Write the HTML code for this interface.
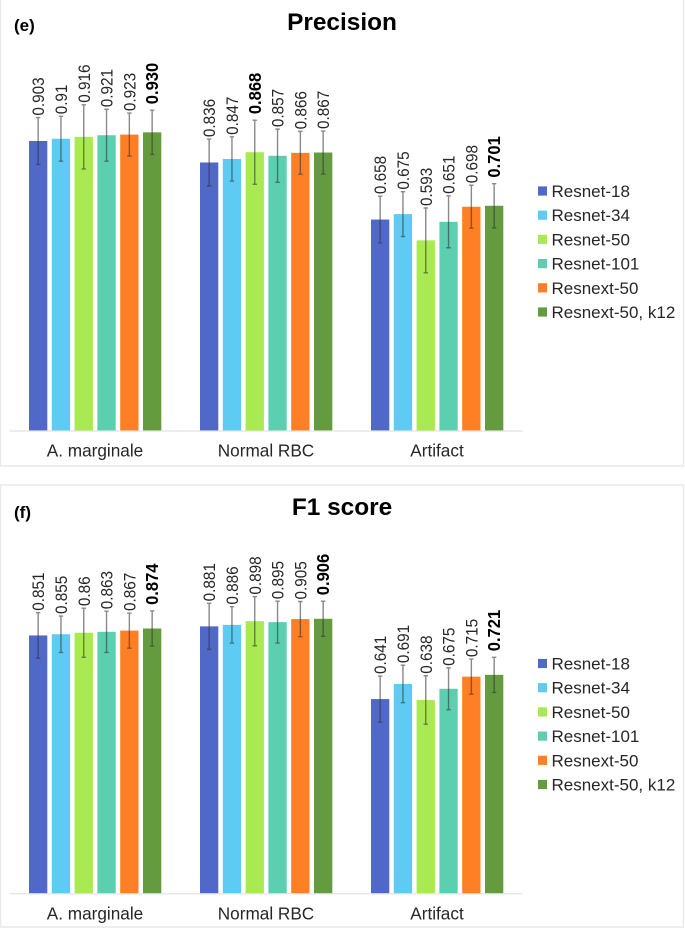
<!DOCTYPE html>
<html lang="en">
<head>
<meta charset="utf-8">
<title>Precision and F1 score</title>
<style>
html,body{margin:0;padding:0;background:#fff;width:685px;height:929px;overflow:hidden}
svg{display:block;filter:blur(0.35px)}
text{font-family:"Liberation Sans",Arial,sans-serif;fill:#262626}
</style>
</head>
<body>
<svg id="chart" xmlns="http://www.w3.org/2000/svg" width="685" height="929" viewBox="0 0 685 929"></svg>
<script>
var categories = ['A. marginale', 'Normal RBC', 'Artifact'];
var seriesNames = ['Resnet-18', 'Resnet-34', 'Resnet-50', 'Resnet-101', 'Resnext-50', 'Resnext-50, k12'];
var seriesColors = ['#5068c8', '#5ecbf3', '#a9e951', '#5ccfb0', '#ff7f24', '#659b3f'];

var precisionValues = [
  [0.903, 0.91, 0.916, 0.921, 0.923, 0.930],
  [0.836, 0.847, 0.868, 0.857, 0.866, 0.867],
  [0.658, 0.675, 0.593, 0.651, 0.698, 0.701]
];
var precisionLabels = [
  ['0.903', '0.91', '0.916', '0.921', '0.923', '0.930'],
  ['0.836', '0.847', '0.868', '0.857', '0.866', '0.867'],
  ['0.658', '0.675', '0.593', '0.651', '0.698', '0.701']
];
var precisionErrors = [
  [0.073, 0.070, 0.100, 0.081, 0.067, 0.069],
  [0.073, 0.069, 0.100, 0.083, 0.067, 0.067],
  [0.073, 0.070, 0.101, 0.081, 0.067, 0.069]
];
var precisionBold = [5, 2, 5];

var f1Values = [
  [0.851, 0.855, 0.86, 0.863, 0.867, 0.874],
  [0.881, 0.886, 0.898, 0.895, 0.905, 0.906],
  [0.641, 0.691, 0.638, 0.675, 0.715, 0.721]
];
var f1Labels = [
  ['0.851', '0.855', '0.86', '0.863', '0.867', '0.874'],
  ['0.881', '0.886', '0.898', '0.895', '0.905', '0.906'],
  ['0.641', '0.691', '0.638', '0.675', '0.715', '0.721']
];
var f1Errors = [
  [0.075, 0.060, 0.081, 0.068, 0.058, 0.058],
  [0.076, 0.060, 0.081, 0.069, 0.058, 0.058],
  [0.076, 0.062, 0.080, 0.069, 0.058, 0.058]
];
var f1Bold = [5, 5, 5];

var svg = document.getElementById('chart');
var NS = 'http://www.w3.org/2000/svg';

function make(tag, attrs, parent) {
  var el = document.createElementNS(NS, tag);
  for (var k in attrs) { el.setAttribute(k, attrs[k]); }
  parent.appendChild(el);
  return el;
}

function drawPanel(opts) {
  var g = make('g', {}, svg);
  
  

  var frame = make('rect', {x: opts.frameX, y: opts.frameTop, width: 683, height: opts.frameBottom - opts.frameTop, fill: '#fff', stroke: '#e9e9e9', 'stroke-width': 1.5}, g);
  
  

  var title = make('text', {x: 342, y: opts.titleY, 'text-anchor': 'middle', 'font-size': 24.4, 'font-weight': 'bold', style: 'fill:#000'}, g);
  title.textContent = opts.title;
  
  

  var tag = make('text', {x: 14, y: opts.tagY, 'font-size': 17, 'font-weight': 'bold', style: 'fill:#000'}, g);
  tag.textContent = opts.tag;
  
  

  var baseline = opts.baseline;
  var scale = opts.pxPerUnit;
  function yScale(v) { return baseline - v * scale; }
  var plotLeft = 9.5, groupWidth = 171, barWidth = 18.3, barPitch = 22.8, groupPad = 19.5;
  function xScale(groupIndex, seriesIndex) { return plotLeft + groupWidth * groupIndex + groupPad + barPitch * seriesIndex; }

  opts.values.forEach(function (groupVals, gi) {
    groupVals.forEach(function (v, si) {
      var x = xScale(gi, si), top = yScale(v);
      var bar = make('rect', {x: x, y: top, width: barWidth, height: baseline - top, fill: seriesColors[si]}, g);
      
      
    });
  });

  var axis = make('line', {x1: plotLeft, x2: plotLeft + groupWidth * 3, y1: baseline + 0.5, y2: baseline + 0.5, stroke: '#e2e2e2', 'stroke-width': 1.2}, g);
  
  

  opts.values.forEach(function (groupVals, gi) {
    groupVals.forEach(function (v, si) {
      var cx = xScale(gi, si) + barWidth / 2;
      var e = opts.errors[gi][si];
      var yHi = yScale(v + e), yLo = yScale(v - e);
      var eb = make('path', {d: 'M' + (cx - 2.2) + ' ' + yHi + 'H' + (cx + 2.2) + 'M' + cx + ' ' + yHi + 'V' + yLo + 'M' + (cx - 2.2) + ' ' + yLo + 'H' + (cx + 2.2), fill: 'none', stroke: '#333', 'stroke-opacity': 0.58, 'stroke-width': 1.4}, g);
      
      

      var isBold = opts.bold[gi] === si;
      var lx = cx + 6, ly = yHi - (isBold ? 6 : 2);
      var label = make('text', {x: 0, y: 0, transform: 'translate(' + lx + ' ' + ly + ') rotate(-90) scale(' + (isBold ? 0.92 : 0.9) + ' 1)', 'font-size': isBold ? 18 : 17, 'font-weight': isBold ? 'bold' : 'normal', style: isBold ? 'fill:#000' : ''}, g);
      label.textContent = opts.labels[gi][si];
      
      
    });
    var cat = make('text', {x: plotLeft + groupWidth * gi + groupWidth / 2, y: baseline + 26, 'text-anchor': 'middle', 'font-size': 17.2}, g);
    cat.textContent = categories[gi];
    
    
  });

  seriesNames.forEach(function (n, si) {
    var cy = opts.legendY + si * 24.2;
    var entry = make('g', {}, g);
    
    
    var sw = make('rect', {x: 538, y: cy - 4.6, width: 9, height: 9.2, fill: seriesColors[si]}, entry);
    
    
    var t = make('text', {x: 551.5, y: cy + 6, 'font-size': 17}, entry);
    t.textContent = n;
    
    
  });
}

drawPanel({
  name: 'precision', title: 'Precision', tag: '(e)',
  frameX: 0.5, frameTop: -1, frameBottom: 466, titleY: 30, tagY: 31,
  baseline: 430.5, pxPerUnit: 320.6, legendY: 191,
  values: precisionValues, labels: precisionLabels, errors: precisionErrors, bold: precisionBold
});
drawPanel({
  name: 'f1-score', title: 'F1 score', tag: '(f)',
  frameX: 0.5, frameTop: 485, frameBottom: 927, titleY: 515, tagY: 518,
  baseline: 893.3, pxPerUnit: 303, legendY: 663.5,
  values: f1Values, labels: f1Labels, errors: f1Errors, bold: f1Bold
});
</script>
</body>
</html>
